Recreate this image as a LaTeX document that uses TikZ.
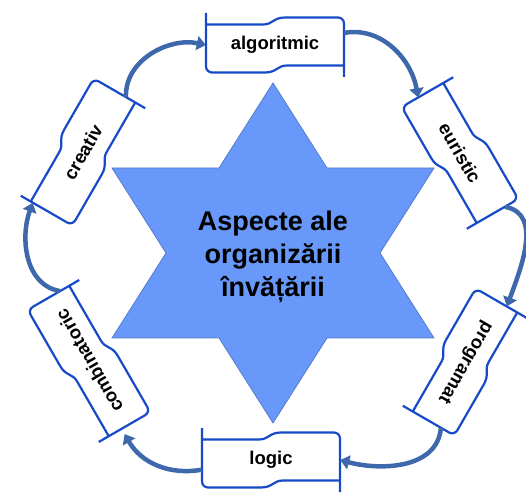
\documentclass[tikz,border=0pt]{standalone}
\usepackage{fontspec}
\setmainfont{Liberation Sans}
\usetikzlibrary{calc,arrows.meta}
\definecolor{starfill}{RGB}{104,152,250}
\definecolor{stardraw}{RGB}{84,124,204}
\definecolor{bannerblue}{RGB}{22,74,200}
\definecolor{arrowblue}{RGB}{62,104,172}
\tikzset{
  bline/.style={draw=bannerblue, line width=2.2pt, line join=round},
  bannertext/.style={inner sep=0pt, minimum height=48pt, font=\bfseries\fontsize{18.5}{22}\selectfont},
  cycarrow/.style={draw=arrowblue, line width=4.5pt, -{Triangle[length=9pt,width=14pt]}},
  pics/banner/.style={code={
    \def\hw{#1}
    \fill[white] (-\hw,20.5) -- (-12,20.5) .. controls (-2,20.5) and (-2,27.5) .. (10,27.5) -- (\hw,27.5) -- (\hw,-20.5) -- (12,-20.5) .. controls (2,-20.5) and (2,-27.5) .. (-10,-27.5) -- (-\hw,-27.5) -- cycle;
    \draw[bline] (-\hw,32) -- (-\hw,20.5) -- (-12,20.5) .. controls (-2,20.5) and (-2,27.5) .. (10,27.5) -- ({\hw-6},27.5) arc[start angle=90,end angle=0,radius=6] -- (\hw,-32);
    \draw[bline] (\hw,-20.5) -- (12,-20.5) .. controls (2,-20.5) and (2,-27.5) .. (-10,-27.5) -- ({-\hw+6},-27.5) arc[start angle=270,end angle=180,radius=6] -- (-\hw,20.5);
  }}
}
\begin{document}
\begin{tikzpicture}[x=1pt,y=1pt]
\useasboundingbox (0,0) rectangle (526,492);
% star
\draw[fill=starfill, draw=stardraw, line width=0.8pt, line join=miter]
  (273,409) -- (327,324) -- (434,324) -- (380,239) -- (434,154) -- (327,154)
  -- (273,69) -- (219,154) -- (112,154) -- (166,239) -- (112,324) -- (219,324) -- cycle;
\node[align=center, font=\bfseries\fontsize{27}{33}\selectfont] (center) at (273,235)
  {Aspecte ale\\organizării\\învățării};
% banners
\pic[rotate=0] at (275,447) {banner=69};
\node[bannertext, minimum width=138pt, rotate=0] (alg) at (275,447) {algoritmic};
\pic[rotate=-60] at (460,339) {banner=69};
\node[bannertext, minimum width=138pt, rotate=-60] (eur) at (460,339) {euristic};
\pic[rotate=240] at (465,130) {banner=69};
\node[bannertext, minimum width=138pt, rotate=240] (prog) at (465,130) {programat};
\pic[rotate=0] at (271,32) {banner=69};
\node[bannertext, minimum width=138pt, rotate=0] (log) at (271,32) {logic};
\pic[rotate=120] at (89,131) {banner=75};
\node[bannertext, minimum width=150pt, rotate=120] (comb) at (89,131) {combinatoric};
\pic[rotate=60] at (83,340) {banner=69};
\node[bannertext, minimum width=138pt, rotate=60] (cre) at (83,340) {creativ};
% cycle arrows
\draw[cycarrow] ($(cre.east)!0.4!(cre.south east)$) to[out=92,in=168] (alg.west);
\draw[cycarrow] ($(alg.east)!0.5!(alg.north east)$) to[out=10,in=100] ($(eur.west)!0.35!(eur.south west)$);
\draw[cycarrow] ($(eur.east)!0.5!(eur.north east)$) to[out=-10,in=70] ($(prog.west)!0.35!(prog.north west)$);
\draw[cycarrow] ($(prog.east)!0.5!(prog.north east)$) to[out=-95,in=-15] (log.east);
\draw[cycarrow] ($(log.west)!0.4!(log.south west)$) to[out=190,in=-60] ([shift={(-2,-8)}]comb.west);
\draw[cycarrow] ($(comb.east)!0.4!(comb.south east)$) to[out=170,in=-110] ($(cre.west)!0.75!(cre.north west)$);
\end{tikzpicture}
\end{document}
